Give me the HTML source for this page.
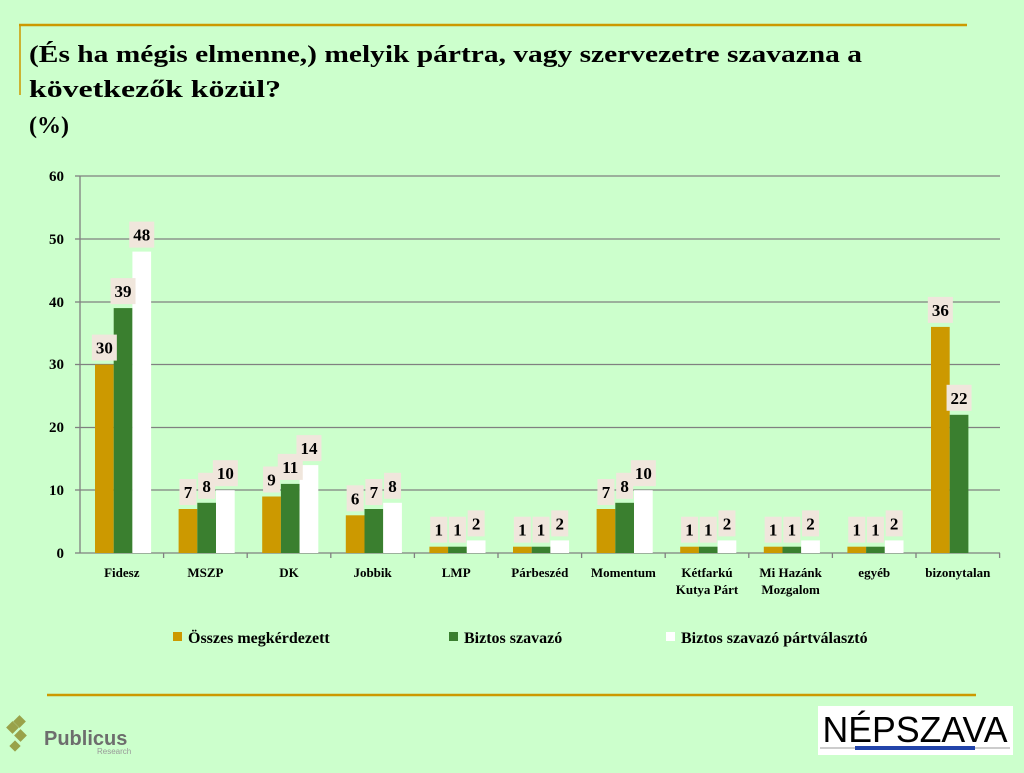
<!DOCTYPE html>
<html><head><meta charset="utf-8"><style>
html,body{margin:0;padding:0;background:#ccffcc;}
svg{display:block;font-family:"Liberation Serif",serif;}
</style></head><body>
<svg width="1024" height="773" viewBox="0 0 1024 773" xmlns="http://www.w3.org/2000/svg">
<rect width="1024" height="773" fill="#ccffcc"/>
<line x1="19" y1="25" x2="967" y2="25" stroke="#cc9900" stroke-width="2.5"/>
<line x1="20" y1="24" x2="20" y2="95" stroke="#cc9900" stroke-width="1.5"/>
<g font-weight="bold" font-size="24" fill="#000">
<text x="29" y="62" textLength="833" lengthAdjust="spacingAndGlyphs">(És ha mégis elmenne,) melyik pártra, vagy szervezetre szavazna a</text>
<text x="29" y="97" textLength="252" lengthAdjust="spacingAndGlyphs">következők közül?</text>
<text x="29" y="133">(%)</text>
</g>
<g stroke="#808080" stroke-width="1.3">
<line x1="80" y1="176" x2="1000" y2="176"/>
<line x1="80" y1="239" x2="1000" y2="239"/>
<line x1="80" y1="302" x2="1000" y2="302"/>
<line x1="80" y1="364.5" x2="1000" y2="364.5"/>
<line x1="80" y1="427.5" x2="1000" y2="427.5"/>
<line x1="80" y1="490" x2="1000" y2="490"/>
<line x1="80" y1="553" x2="1000" y2="553"/>
<line x1="80" y1="176" x2="80" y2="553"/>
<line x1="75" y1="176" x2="80" y2="176"/><line x1="75" y1="239" x2="80" y2="239"/><line x1="75" y1="302" x2="80" y2="302"/><line x1="75" y1="364.5" x2="80" y2="364.5"/><line x1="75" y1="427.5" x2="80" y2="427.5"/><line x1="75" y1="490" x2="80" y2="490"/><line x1="75" y1="553" x2="80" y2="553"/>
<line x1="163.6" y1="553" x2="163.6" y2="558"/><line x1="247.2" y1="553" x2="247.2" y2="558"/><line x1="330.8" y1="553" x2="330.8" y2="558"/><line x1="414.4" y1="553" x2="414.4" y2="558"/><line x1="498" y1="553" x2="498" y2="558"/><line x1="581.6" y1="553" x2="581.6" y2="558"/><line x1="665.2" y1="553" x2="665.2" y2="558"/><line x1="748.8" y1="553" x2="748.8" y2="558"/><line x1="832.4" y1="553" x2="832.4" y2="558"/><line x1="916" y1="553" x2="916" y2="558"/><line x1="999.6" y1="553" x2="999.6" y2="558"/>
</g>
<g font-size="15" font-weight="bold" text-anchor="end">
<text x="64" y="181">60</text><text x="64" y="244">50</text><text x="64" y="307">40</text><text x="64" y="369">30</text><text x="64" y="432">20</text><text x="64" y="495">10</text><text x="64" y="558">0</text>
</g>
<!-- bars -->
<g>
<g fill="#cc9900">
<rect x="95" y="364.6" width="18.7" height="188.4"/>
<rect x="178.6" y="509" width="18.7" height="44"/>
<rect x="262.2" y="496.5" width="18.7" height="56.5"/>
<rect x="345.8" y="515.3" width="18.7" height="37.7"/>
<rect x="429.4" y="546.7" width="18.7" height="6.3"/>
<rect x="513" y="546.7" width="18.7" height="6.3"/>
<rect x="596.6" y="509" width="18.7" height="44"/>
<rect x="680.2" y="546.7" width="18.7" height="6.3"/>
<rect x="763.8" y="546.7" width="18.7" height="6.3"/>
<rect x="847.4" y="546.7" width="18.7" height="6.3"/>
<rect x="931" y="326.9" width="18.7" height="226.1"/>
</g>
<g fill="#3a7f2f">
<rect x="113.7" y="308.1" width="18.7" height="244.9"/>
<rect x="197.3" y="502.8" width="18.7" height="50.2"/>
<rect x="280.9" y="483.9" width="18.7" height="69.1"/>
<rect x="364.5" y="509" width="18.7" height="44"/>
<rect x="448.1" y="546.7" width="18.7" height="6.3"/>
<rect x="531.7" y="546.7" width="18.7" height="6.3"/>
<rect x="615.3" y="502.8" width="18.7" height="50.2"/>
<rect x="698.9" y="546.7" width="18.7" height="6.3"/>
<rect x="782.5" y="546.7" width="18.7" height="6.3"/>
<rect x="866.1" y="546.7" width="18.7" height="6.3"/>
<rect x="949.7" y="414.8" width="18.7" height="138.2"/>
</g>
<g fill="#ffffff">
<rect x="132.4" y="251.6" width="18.7" height="301.4"/>
<rect x="216" y="490.2" width="18.7" height="62.8"/>
<rect x="299.6" y="465.1" width="18.7" height="87.9"/>
<rect x="383.2" y="502.8" width="18.7" height="50.2"/>
<rect x="466.8" y="540.4" width="18.7" height="12.6"/>
<rect x="550.4" y="540.4" width="18.7" height="12.6"/>
<rect x="634" y="490.2" width="18.7" height="62.8"/>
<rect x="717.6" y="540.4" width="18.7" height="12.6"/>
<rect x="801.2" y="540.4" width="18.7" height="12.6"/>
<rect x="884.8" y="540.4" width="18.7" height="12.6"/>
</g>
</g>
<!-- label boxes -->
<g fill="#f0e6dc">
<rect x="91.85" y="334.6" width="25" height="26"/><rect x="110.55" y="278.1" width="25" height="26"/><rect x="129.25" y="221.6" width="25" height="26"/>
<rect x="179.45" y="479" width="17" height="26"/><rect x="198.15" y="472.8" width="17" height="26"/><rect x="212.85" y="460.2" width="25" height="26"/>
<rect x="263.05" y="466.5" width="17" height="26"/><rect x="277.75" y="453.9" width="25" height="26"/><rect x="296.45" y="435.1" width="25" height="26"/>
<rect x="346.65" y="485.3" width="17" height="26"/><rect x="365.35" y="479" width="17" height="26"/><rect x="384.05" y="472.8" width="17" height="26"/>
<rect x="430.25" y="516.7" width="17" height="26"/><rect x="448.95" y="516.7" width="17" height="26"/><rect x="467.65" y="510.4" width="17" height="26"/>
<rect x="513.85" y="516.7" width="17" height="26"/><rect x="532.55" y="516.7" width="17" height="26"/><rect x="551.25" y="510.4" width="17" height="26"/>
<rect x="597.45" y="479" width="17" height="26"/><rect x="616.15" y="472.8" width="17" height="26"/><rect x="630.85" y="460.2" width="25" height="26"/>
<rect x="681.05" y="516.7" width="17" height="26"/><rect x="699.75" y="516.7" width="17" height="26"/><rect x="718.45" y="510.4" width="17" height="26"/>
<rect x="764.65" y="516.7" width="17" height="26"/><rect x="783.35" y="516.7" width="17" height="26"/><rect x="802.05" y="510.4" width="17" height="26"/>
<rect x="848.25" y="516.7" width="17" height="26"/><rect x="866.95" y="516.7" width="17" height="26"/><rect x="885.65" y="510.4" width="17" height="26"/>
<rect x="927.85" y="296.9" width="25" height="26"/><rect x="946.55" y="384.8" width="25" height="26"/>
</g>
<g font-size="17" font-weight="bold" text-anchor="middle">
<text x="104.35" y="353.6">30</text><text x="123.05" y="297.1">39</text><text x="141.75" y="240.6">48</text>
<text x="187.95" y="498">7</text><text x="206.65" y="491.8">8</text><text x="225.35" y="479.2">10</text>
<text x="271.55" y="485.5">9</text><text x="290.25" y="472.9">11</text><text x="308.95" y="454.1">14</text>
<text x="355.15" y="504.3">6</text><text x="373.85" y="498">7</text><text x="392.55" y="491.8">8</text>
<text x="438.75" y="535.7">1</text><text x="457.45" y="535.7">1</text><text x="476.15" y="529.4">2</text>
<text x="522.35" y="535.7">1</text><text x="541.05" y="535.7">1</text><text x="559.75" y="529.4">2</text>
<text x="605.95" y="498">7</text><text x="624.65" y="491.8">8</text><text x="643.35" y="479.2">10</text>
<text x="689.55" y="535.7">1</text><text x="708.25" y="535.7">1</text><text x="726.95" y="529.4">2</text>
<text x="773.15" y="535.7">1</text><text x="791.85" y="535.7">1</text><text x="810.55" y="529.4">2</text>
<text x="856.75" y="535.7">1</text><text x="875.45" y="535.7">1</text><text x="894.15" y="529.4">2</text>
<text x="940.35" y="315.9">36</text><text x="959.05" y="403.8">22</text>
</g>
<g font-size="13" font-weight="bold" text-anchor="middle">
<text x="121.8" y="577">Fidesz</text>
<text x="205.4" y="577">MSZP</text>
<text x="289" y="577">DK</text>
<text x="372.6" y="577">Jobbik</text>
<text x="456.2" y="577">LMP</text>
<text x="539.8" y="577">Párbeszéd</text>
<text x="623.4" y="577">Momentum</text>
<text x="707" y="577">Kétfarkú</text><text x="707" y="594">Kutya Párt</text>
<text x="790.6" y="577">Mi Hazánk</text><text x="790.6" y="594">Mozgalom</text>
<text x="874.2" y="577">egyéb</text>
<text x="957.8" y="577">bizonytalan</text>
</g>
<rect x="173" y="632" width="9" height="9" fill="#cc9900"/>
<rect x="449" y="632" width="9" height="9" fill="#3a7f2f"/>
<rect x="666" y="632" width="9" height="9" fill="#ffffff"/>
<g font-size="16" font-weight="bold">
<text x="188" y="643">Összes megkérdezett</text>
<text x="464" y="643">Biztos szavazó</text>
<text x="681" y="643">Biztos szavazó pártválasztó</text>
</g>
<line x1="47" y1="695" x2="976" y2="695" stroke="#cc9900" stroke-width="2.5"/>
<g fill="#99a24a">
<rect x="8" y="723" width="9" height="9" transform="rotate(45 12.5 727.5)"/>
<rect x="15" y="717" width="9" height="9" transform="rotate(45 19.5 721.5)"/>
<rect x="16" y="731" width="9" height="9" transform="rotate(45 20.5 735.5)"/>
<rect x="11" y="742" width="8" height="8" transform="rotate(45 15 746)"/>
</g>
<text x="44" y="745" font-family="Liberation Sans,sans-serif" font-weight="bold" font-size="20" fill="#6d6d6d">Publicus</text>
<text x="97" y="754" font-family="Liberation Sans,sans-serif" font-size="8" fill="#999">Research</text>
<rect x="818" y="706" width="195" height="49" fill="#fff"/>
<text x="915" y="742" text-anchor="middle" font-family="Liberation Sans,sans-serif" font-size="36" fill="#000" textLength="185" lengthAdjust="spacingAndGlyphs">NÉPSZAVA</text>
<line x1="820" y1="748" x2="1010" y2="748" stroke="#999" stroke-width="1"/>
<rect x="855" y="746" width="120" height="4" fill="#2244aa"/>
</svg>
</body></html>
